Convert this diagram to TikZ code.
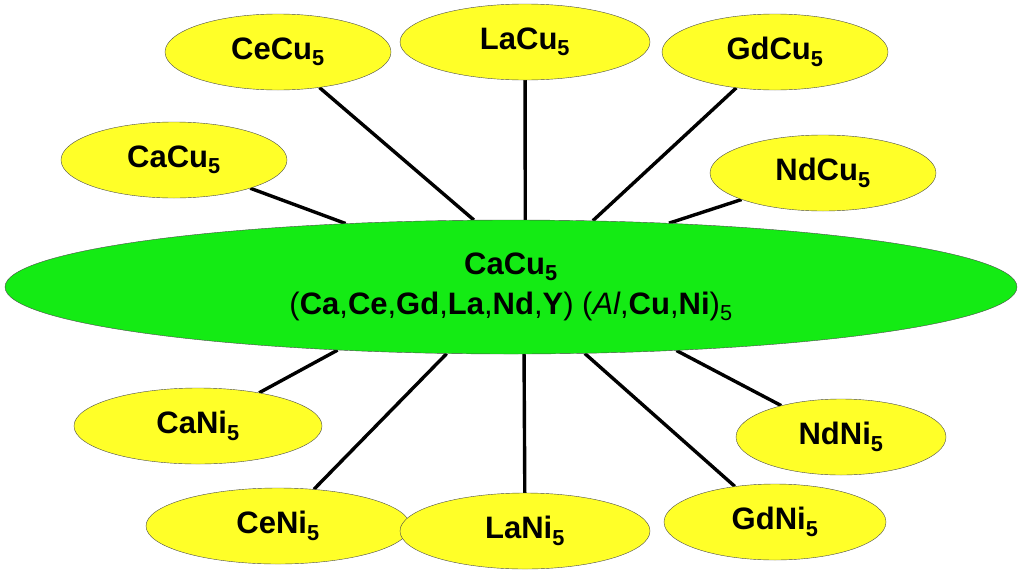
\documentclass[tikz,border=0pt]{standalone}
\usepackage{fontspec}
\setmainfont{Liberation Sans}
\usetikzlibrary{shapes.geometric}
\pgfdeclarelayer{background}
\pgfsetlayers{background,main}
\definecolor{phaseyellow}{RGB}{255,255,40}
\definecolor{phasegreen}{RGB}{20,235,20}
\newcommand{\cmp}[2]{\textbf{#1}\textsubscript{\textbf{#2}}}

\begin{document}
\begin{tikzpicture}[x=1pt,y=-1pt,
  phase/.style={ellipse,draw=black!70,fill=phaseyellow,inner sep=0pt,
    minimum width=226pt,minimum height=76pt,font=\fontsize{31}{36}\selectfont},
  link/.style={line width=3.4pt,black}]
\useasboundingbox (0,0) rectangle (1024,581);

% central structure type
\node[ellipse,draw=black!70,fill=phasegreen,inner sep=0pt,minimum width=1012pt,
  minimum height=134pt,align=center,font=\fontsize{31}{40}\selectfont] (main) at (511,287)
  {\cmp{CaCu}{5}\\(\textbf{Ca},\textbf{Ce},\textbf{Gd},\textbf{La},\textbf{Nd},\textbf{Y}) (\textit{Al},\textbf{Cu},\textbf{Ni})\textsubscript{5}};

% copper phases
\node[phase] (cecu) at (278,52) {\cmp{CeCu}{5}};
\node[phase,minimum width=250pt] (lacu) at (525,42) {\cmp{LaCu}{5}};
\node[phase] (gdcu) at (775,52) {\cmp{GdCu}{5}};
\node[phase] (cacu) at (174,160) {\cmp{CaCu}{5}};
\node[phase] (ndcu) at (823,173) {\cmp{NdCu}{5}};

% nickel phases
\node[phase,minimum width=248pt] (cani) at (198,426) {\cmp{CaNi}{5}};
\node[phase,minimum width=210pt] (ndni) at (841,437) {\cmp{NdNi}{5}};
\node[phase,minimum width=264pt] (ceni) at (278,526) {\cmp{CeNi}{5}};
\node[phase,minimum width=250pt] (lani) at (525,531) {\cmp{LaNi}{5}};
\node[phase,minimum width=222pt] (gdni) at (775,522) {\cmp{GdNi}{5}};

% connections
\begin{pgfonlayer}{background}
\draw[link] (cecu) -- (main.119.5);
\draw[link] (lacu) -- (main.78.5);
\draw[link] (gdcu) -- (main.39.4);
\draw[link] (cacu) -- (main.159.2);
\draw[link] (ndcu) -- (main.22.2);
\draw[link] (cani) -- (main.200.1);
\draw[link] (ceni) -- (main.226.6);
\draw[link] (lani) -- (main.281.8);
\draw[link] (gdni) -- (main.318.2);
\draw[link] (ndni) -- (main.339.5);
\end{pgfonlayer}
\end{tikzpicture}
\end{document}
